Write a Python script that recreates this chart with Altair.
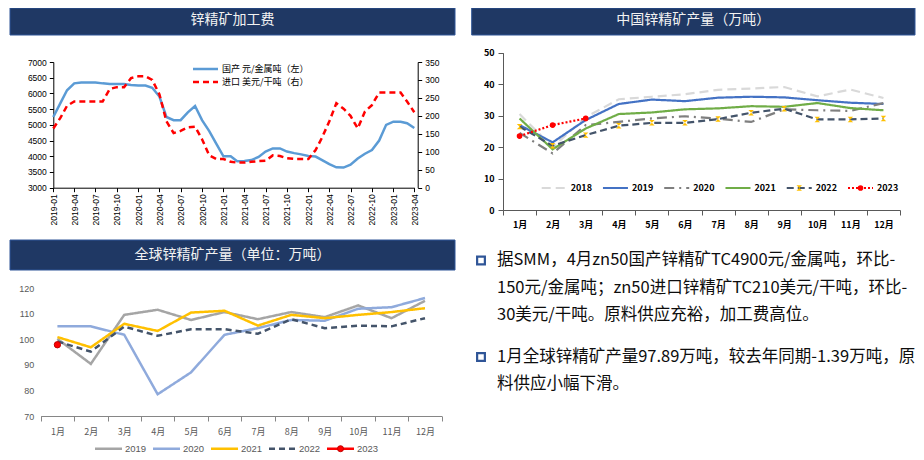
import altair as alt
import pandas as pd

# ---------------- data ----------------
# 锌精矿加工费 (monthly, 2019-01 .. 2023-04)
tc_start = "2019-01-01"
domestic_tc = [5250, 5700, 6100, 6320, 6350, 6350, 6350, 6320, 6300, 6300, 6300, 6270,
               6250, 6250, 6180, 5900, 5250, 5150, 5150, 5400, 5600, 5150, 4800, 4400,
               4000, 4000, 3840, 3850, 3880, 3980, 4150, 4250, 4250, 4150, 4100, 4060,
               4010, 3990, 3880, 3750, 3650, 3640, 3730, 3930, 4080, 4200, 4500, 5000,
               5100, 5100, 5050, 4900]
import_tc = [165, 195, 228, 240, 240, 240, 240, 240, 275, 280, 280, 305,
             310, 310, 300, 260, 185, 152, 158, 168, 170, 135, 90, 80,
             80, 72, 70, 70, 72, 74, 75, 90, 88, 82, 80, 80,
             80, 105, 140, 185, 235, 220, 200, 165, 212, 230, 265, 265,
             265, 265, 240, 210]
tc_names = ["国产 元/金属吨（左）", "进口 美元/干吨（右）"]

# 中国锌精矿产量（万吨）
months = ["1月", "2月", "3月", "4月", "5月", "6月", "7月", "8月", "9月", "10月", "11月", "12月"]
cn_years = ["2018", "2019", "2020", "2021", "2022", "2023"]
cn_2018 = [30.5, 20.0, 29.5, 35.2, 36.0, 36.8, 38.2, 38.6, 39.1, 36.1, 38.3, 35.6]
cn_2019 = [27.0, 21.5, 28.6, 33.7, 35.1, 34.6, 35.7, 36.0, 35.8, 34.9, 34.1, 33.7]
cn_2020 = [24.5, 18.0, 27.0, 28.0, 29.1, 29.8, 29.0, 28.0, 32.0, 31.7, 31.5, 34.0]
cn_2021 = [29.1, 19.3, 25.9, 30.5, 31.0, 32.0, 32.3, 33.0, 32.8, 34.0, 32.4, 31.7]
cn_2022 = [26.5, 20.4, 23.8, 26.8, 27.7, 27.7, 28.9, 30.9, 32.2, 28.8, 28.8, 29.1]
cn_2023 = [23.5, 27.0, 29.1]

# 全球锌精矿产量（单位：万吨）
gl_years = ["2019", "2020", "2021", "2022", "2023"]
gl_2019 = [100.2, 90.4, 109.6, 111.6, 107.6, 110.7, 107.9, 110.7, 108.7, 113.3, 108.3, 115.1]
gl_2020 = [105.1, 105.1, 101.8, 78.5, 87.1, 101.8, 104.4, 107.6, 107.3, 112.0, 112.6, 116.2]
gl_2021 = [100.9, 96.9, 106.1, 103.3, 110.5, 111.2, 105.4, 109.6, 108.3, 109.6, 110.7, 112.2]
gl_2022 = [99.2, 95.2, 105.0, 101.4, 104.0, 104.0, 102.2, 107.9, 104.4, 105.4, 105.1, 108.3]
gl_2023 = [97.89]

# text panel
para1 = ["据SMM，4月zn50国产锌精矿TC4900元/金属吨，环比-",
         "150元/金属吨；zn50进口锌精矿TC210美元/干吨，环比-",
         "30美元/干吨。原料供应充裕，加工费高位。"]
para2 = ["1月全球锌精矿产量97.89万吨，较去年同期-1.39万吨，原",
         "料供应小幅下滑。"]
titles = ["锌精矿加工费", "中国锌精矿产量（万吨）", "全球锌精矿产量（单位：万吨）"]

# ---------------- styles / layout ----------------
W, H = 908, 450
CJK = "Noto Sans CJK SC"
NUM = "Liberation Sans"
NAVY = "#1f3864"

C1_X = [45.3, 406.3]
C1_Y = [179.7, 54.0]
C1_RIGHT = 409.7
C2_X = [495.0, 892.0]
C2_Y = [202.0, 44.7]
C3_X = [32.7, 433.7]
C3_Y = [408.0, 280.3]

cn_colors = ["#d9d9d9", "#4472c4", "#7f7f7f", "#70ad47", "#44546a", "#ff0000"]
cn_dashes = [[9, 5], [1, 0], [10, 5, 2, 5], [1, 0], [7, 4], [2, 2]]
gl_colors = ["#a5a5a5", "#8faadc", "#ffc000", "#44546a", "#ff0000"]
gl_dashes = [[1, 0], [1, 0], [1, 0], [6, 4], [1, 0]]
HOURGLASS = "M-1,-1L1,-1L-1,1L1,1Z"

layers = []

# ---------------- headers ----------------
hdr = [(2, 447, 0, 27, 12), (463.7, 907, 0, 27, 12), (2, 447, 232, 262, 247)]
for (x0, x1, y0, y1, yc), t in zip(hdr, titles):
    d = pd.DataFrame({"t": [t]})
    layers.append(alt.Chart(d).mark_rect(color=NAVY, stroke="#2f5597", strokeWidth=1).encode(
        x=alt.value(x0), x2=alt.value(x1), y=alt.value(y0), y2=alt.value(y1)))
    layers.append(alt.Chart(d).mark_text(font=CJK, fontSize=14, color="#f2f2f2",
                                         align="center", baseline="middle").encode(
        x=alt.value((x0 + x1) / 2), y=alt.value(yc), text="t:N"))

# ---------------- chart 1 ----------------
tc_dates = pd.date_range(tc_start, periods=len(domestic_tc), freq="MS")
df_tc = pd.DataFrame({"month": tc_dates, "domestic": domestic_tc, "imp": import_tc})
tick_dates = [alt.DateTime(year=d.year, month=d.month, date=1) for d in tc_dates[::3]]
x1_scale = alt.Scale(type="time", domain=[alt.DateTime(year=tc_dates[0].year, month=tc_dates[0].month, date=1),
                                          alt.DateTime(year=tc_dates[-1].year, month=tc_dates[-1].month, date=1)],
                     range=C1_X, nice=False)
ax_common = dict(labelFont=NUM, labelFontSize=8.5, labelColor="#000000", domainColor="#000000",
                 tickColor="#000000", tickSize=4, grid=False, title=None)

layers.append(alt.Chart(df_tc).mark_line(color="#5b9bd5", strokeWidth=2.5).encode(
    x=alt.X("month:T", scale=x1_scale,
            axis=alt.Axis(orient="bottom", offset=-(H - C1_Y[0]), values=tick_dates, format="%Y-%m",
                          formatType="time", labelAngle=-90, labelFlush=False, labelOverlap=False,
                          labelPadding=2, **ax_common)),
    y=alt.Y("domestic:Q", scale=alt.Scale(domain=[3000, 7000], range=C1_Y, nice=False, zero=False),
            axis=alt.Axis(orient="left", offset=-C1_X[0], values=list(range(3000, 7001, 500)),
                          format="d", labelPadding=3, **ax_common))))
layers.append(alt.Chart(df_tc).mark_line(color="#ff0000", strokeWidth=2.5, strokeDash=[6, 4]).encode(
    x=alt.X("month:T", scale=x1_scale, axis=None),
    y=alt.Y("imp:Q", scale=alt.Scale(domain=[0, 350], range=C1_Y, nice=False, zero=False),
            axis=alt.Axis(orient="right", offset=-(W - C1_RIGHT), values=list(range(0, 351, 50)),
                          format="d", labelPadding=3, **ax_common))))

leg1 = pd.DataFrame({"name": tc_names})
leg1_y = alt.Y("name:N", scale=alt.Scale(type="point", domain=tc_names, range=[61, 74], padding=0), axis=None)
layers.append(alt.Chart(leg1).mark_rule(strokeWidth=2.5).encode(
    x=alt.value(185), x2=alt.value(210), y=leg1_y,
    color=alt.Color("name:N", scale=alt.Scale(domain=tc_names, range=["#5b9bd5", "#ff0000"]), legend=None),
    strokeDash=alt.StrokeDash("name:N", scale=alt.Scale(domain=tc_names, range=[[1, 0], [6, 4]]), legend=None)))
layers.append(alt.Chart(leg1).mark_text(font=CJK, fontSize=9, color="#000000", align="left",
                                        baseline="middle").encode(
    x=alt.value(214), y=leg1_y, text="name:N"))

# ---------------- chart 2 ----------------
cn_series = dict(zip(cn_years, [cn_2018, cn_2019, cn_2020, cn_2021, cn_2022, cn_2023]))
df_cn = pd.DataFrame([{"year": y, "month": months[i], "mi": i, "value": v}
                      for y in cn_years for i, v in enumerate(cn_series[y])])


def x2_enc(axis=None):
    return alt.X("month:N", scale=alt.Scale(type="band", domain=months, range=C2_X,
                                            paddingInner=0, paddingOuter=0),
                 bandPosition=0.5, axis=axis)


y2_scale = alt.Scale(domain=[0, 50], range=C2_Y, nice=False, zero=False)
ax2 = dict(labelFont=CJK, labelFontSize=9, labelFontWeight="bold", labelColor="#000000",
           domainColor="#595959", tickColor="#595959", tickSize=5, grid=False, title=None)

layers.append(alt.Chart(df_cn).mark_line(strokeWidth=2.2).encode(
    x=x2_enc(alt.Axis(orient="bottom", offset=-(H - C2_Y[0]), tickBand="extent", labelAngle=0,
                      labelPadding=5, **ax2)),
    y=alt.Y("value:Q", scale=y2_scale,
            axis=alt.Axis(orient="left", offset=-C2_X[0], values=list(range(0, 51, 10)),
                          labelPadding=4, **ax2)),
    color=alt.Color("year:N", scale=alt.Scale(domain=cn_years, range=cn_colors), legend=None),
    strokeDash=alt.StrokeDash("year:N", scale=alt.Scale(domain=cn_years, range=cn_dashes), legend=None),
    order=alt.Order("mi:Q")))
layers.append(alt.Chart(df_cn[df_cn.year == "2022"]).mark_point(
    shape=HOURGLASS, filled=True, color="#ffc000", size=30, opacity=1).encode(
    x=x2_enc(), y=alt.Y("value:Q", scale=y2_scale, axis=None)))
layers.append(alt.Chart(df_cn[df_cn.year == "2023"]).mark_circle(color="#ff0000", size=32, opacity=1).encode(
    x=x2_enc(), y=alt.Y("value:Q", scale=y2_scale, axis=None)))

leg2 = pd.DataFrame({"year": cn_years})
leg2_x = alt.X("year:N", scale=alt.Scale(type="point", domain=cn_years, range=[533.7, 840.0], padding=0),
               axis=None)
layers.append(alt.Chart(leg2).mark_rule(strokeWidth=2.2, x2Offset=25).encode(
    x=leg2_x, x2=alt.X2("year:N"), y=alt.value(180),
    color=alt.Color("year:N", scale=alt.Scale(domain=cn_years, range=cn_colors), legend=None),
    strokeDash=alt.StrokeDash("year:N", scale=alt.Scale(domain=cn_years, range=cn_dashes), legend=None)))
layers.append(alt.Chart(leg2).mark_text(font=CJK, fontSize=9, fontWeight="bold", color="#000000",
                                        align="left", baseline="middle", dx=29).encode(
    x=leg2_x, y=alt.value(180), text="year:N"))
layers.append(alt.Chart(leg2[leg2.year == "2022"]).mark_point(
    shape=HOURGLASS, filled=True, color="#ffc000", size=30, opacity=1, xOffset=12.5).encode(
    x=leg2_x, y=alt.value(180)))
layers.append(alt.Chart(leg2[leg2.year == "2023"]).mark_circle(
    color="#ff0000", size=32, opacity=1, xOffset=12.5).encode(x=leg2_x, y=alt.value(180)))

# ---------------- chart 3 ----------------
gl_series = dict(zip(gl_years, [gl_2019, gl_2020, gl_2021, gl_2022, gl_2023]))
df_gl = pd.DataFrame([{"year": y, "month": months[i], "mi": i, "value": v}
                      for y in gl_years for i, v in enumerate(gl_series[y])])


def x3_enc(axis=None):
    return alt.X("month:N", scale=alt.Scale(type="band", domain=months, range=C3_X,
                                            paddingInner=0, paddingOuter=0),
                 bandPosition=0.5, axis=axis)


y3_scale = alt.Scale(domain=[70, 120], range=C3_Y, nice=False, zero=False)
ax3 = dict(labelFont=CJK, labelFontSize=9, labelColor="#595959", domainColor="#868686",
           tickColor="#868686", tickSize=5, grid=False, title=None)

layers.append(alt.Chart(df_gl).mark_line(strokeWidth=2.5).encode(
    x=x3_enc(alt.Axis(orient="bottom", offset=-(H - C3_Y[0]), tickBand="extent", labelAngle=0,
                      labelPadding=6, **ax3)),
    y=alt.Y("value:Q", scale=y3_scale,
            axis=alt.Axis(orient="left", offset=-C3_X[0], values=list(range(70, 121, 10)),
                          domain=False, ticks=False, labelPadding=7,
                          labelFont=NUM, labelFontSize=9, labelColor="#595959", grid=False, title=None)),
    color=alt.Color("year:N", scale=alt.Scale(domain=gl_years, range=gl_colors), legend=None),
    strokeDash=alt.StrokeDash("year:N", scale=alt.Scale(domain=gl_years, range=gl_dashes), legend=None),
    order=alt.Order("mi:Q")))
layers.append(alt.Chart(df_gl[df_gl.year == "2023"]).mark_circle(
    color="#ff0000", size=40, opacity=1, stroke="#c00000", strokeWidth=1).encode(
    x=x3_enc(), y=alt.Y("value:Q", scale=y3_scale, axis=None)))

leg3 = pd.DataFrame({"year": gl_years})
leg3_x = alt.X("year:N", scale=alt.Scale(type="point", domain=gl_years, range=[87.0, 319.0], padding=0),
               axis=None)
layers.append(alt.Chart(leg3).mark_rule(strokeWidth=2.5, x2Offset=27).encode(
    x=leg3_x, x2=alt.X2("year:N"), y=alt.value(440.7),
    color=alt.Color("year:N", scale=alt.Scale(domain=gl_years, range=gl_colors), legend=None),
    strokeDash=alt.StrokeDash("year:N", scale=alt.Scale(domain=gl_years, range=gl_dashes), legend=None)))
layers.append(alt.Chart(leg3).mark_text(font=NUM, fontSize=9.5, color="#595959",
                                        align="left", baseline="middle", dx=30).encode(
    x=leg3_x, y=alt.value(440.7), text="year:N"))
layers.append(alt.Chart(leg3[leg3.year == "2023"]).mark_circle(
    color="#ff0000", size=36, opacity=1, stroke="#c00000", strokeWidth=1, xOffset=13.5).encode(
    x=leg3_x, y=alt.value(440.7)))

# ---------------- text panel ----------------
one = pd.DataFrame({"a": [0]})
for yb in [252.5, 349.0]:
    layers.append(alt.Chart(one).mark_point(shape="square", filled=False, color="#2f5597",
                                            strokeWidth=2.2, size=60, opacity=1).encode(
        x=alt.value(473), y=alt.value(yb)))
for lines, ys in [(para1, [252, 280, 307]), (para2, [349, 376])]:
    for ln, yy in zip(lines, ys):
        layers.append(alt.Chart(one).mark_text(text=ln, font=CJK, fontSize=16.5, color="#0d0d0d",
                                               align="left", baseline="middle").encode(
            x=alt.value(489), y=alt.value(yy)))

chart = alt.layer(*layers).resolve_scale(
    x="independent", y="independent", color="independent", strokeDash="independent"
).properties(
    width=W, height=H, autosize=alt.AutoSizeParams(type="none"), padding=0
).configure_view(stroke=None).configure_axis(grid=False)

chart.save("out.html", embed_options={"renderer": "svg", "actions": False})
